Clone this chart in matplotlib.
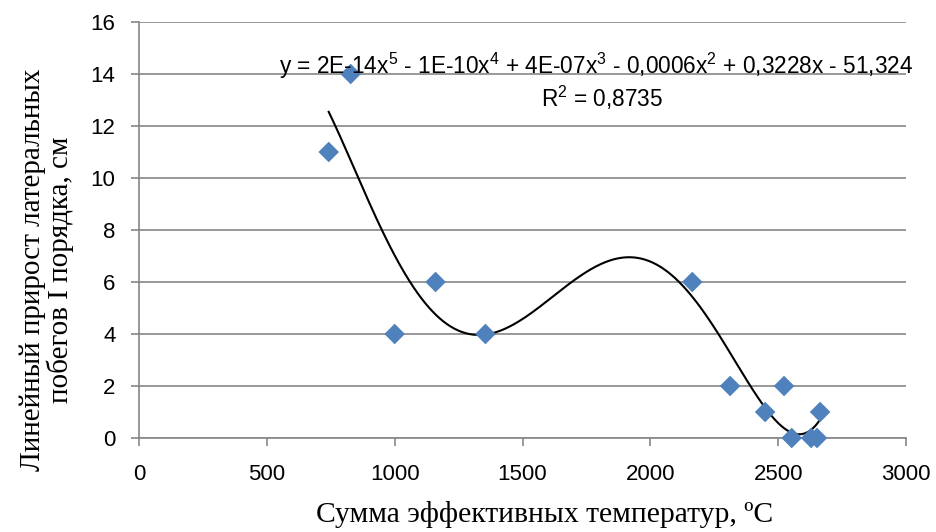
import matplotlib.pyplot as plt
import numpy as np

# суммы эффективных температур и прирост побегов
temp_sum = [742, 828, 1000, 1160, 1355, 2164, 2312, 2449, 2523, 2553, 2629, 2652, 2664]
growth = [11, 14, 4, 6, 4, 6, 2, 1, 2, 0, 0, 0, 1]

x_ticks = [0, 500, 1000, 1500, 2000, 2500, 3000]
y_ticks = [0, 2, 4, 6, 8, 10, 12, 14, 16]

grid_color = '#868686'
point_color = '#4F81BD'

plt.rcParams['mathtext.fontset'] = 'custom'
plt.rcParams['mathtext.rm'] = 'Liberation Sans'
plt.rcParams['mathtext.it'] = 'Liberation Sans'
plt.rcParams['mathtext.default'] = 'rm'


def main():
    fig = plt.figure(figsize=(9.36, 5.32), dpi=100)
    ax = fig.add_axes([139 / 936, 94 / 532, 767 / 936, 416 / 532])

    # полиномиальный тренд 5-й степени по точкам
    coef = np.polyfit(temp_sum, growth, 5)
    xs = np.linspace(min(temp_sum), max(temp_sum), 400)
    ax.plot(xs, np.polyval(coef, xs), color='black', lw=1.5, zorder=2)

    ax.scatter(temp_sum, growth, marker='D', s=110, color=point_color,
               edgecolors='none', zorder=3, clip_on=False)

    ax.set_xlim(0, 3000)
    ax.set_ylim(0, 16)
    ax.set_xticks(x_ticks)
    ax.set_yticks(y_ticks)
    ax.grid(axis='y', color=grid_color, lw=1.2)
    ax.set_axisbelow(True)
    for side in ('top', 'right'):
        ax.spines[side].set_visible(False)
    for side in ('left', 'bottom'):
        ax.spines[side].set_color(grid_color)
        ax.spines[side].set_linewidth(1.2)
    ax.tick_params(colors=grid_color, width=1.2, length=6, labelcolor='black',
                   labelsize=16)
    ax.tick_params(axis='x', pad=13)
    ax.tick_params(axis='y', pad=11)
    for lbl in ax.get_xticklabels() + ax.get_yticklabels():
        lbl.set_fontfamily('Liberation Sans')

    fig.text(545 / 936, 1 - 515 / 532, 'Сумма эффективных температур, ºС',
             ha='center', va='center', fontsize=21.3, fontfamily='Liberation Serif')
    fig.text(47 / 936, 1 - 270 / 532,
             'Линейный прирост латеральных\nпобегов I порядка, см',
             ha='center', va='center', rotation=90, fontsize=21,
             fontfamily='Liberation Serif', linespacing=1.0,
             multialignment='center')

    ax.text(1790, 14.3,
            'y = 2E-14x$^5$ - 1E-10x$^4$ + 4E-07x$^3$ - 0,0006x$^2$ + 0,3228x - 51,324',
            ha='center', va='center', fontsize=16.3, fontfamily='Liberation Sans')
    ax.text(1810, 13.1, 'R$^2$ = 0,8735', ha='center', va='center',
            fontsize=16.3, fontfamily='Liberation Sans')

    fig.savefig('out.png', dpi=100)


if __name__ == "__main__":
    main()
